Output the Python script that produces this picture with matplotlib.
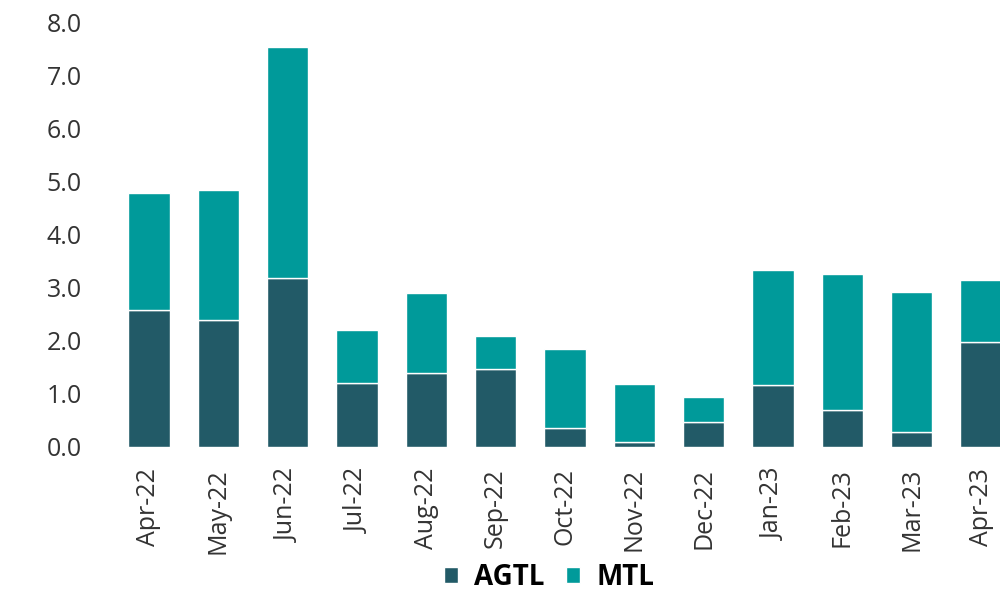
import matplotlib
matplotlib.use('Agg')
import matplotlib.pyplot as plt
import numpy as np

months = ['Apr-22', 'May-22', 'Jun-22', 'Jul-22', 'Aug-22', 'Sep-22', 'Oct-22',
          'Nov-22', 'Dec-22', 'Jan-23', 'Feb-23', 'Mar-23', 'Apr-23']
agtl = [2.58, 2.39, 3.18, 1.21, 1.39, 1.47, 0.36, 0.10, 0.47, 1.17, 0.70, 0.28, 1.98]
mtl = [2.20, 2.45, 4.35, 0.99, 1.51, 0.62, 1.49, 1.09, 0.47, 2.16, 2.56, 2.64, 1.17]

c_agtl = '#225A67'
c_mtl = '#009A9A'

plt.rcParams['font.family'] = ['Open Sans', 'DejaVu Sans']

fig = plt.figure(figsize=(10, 5.97), dpi=100)
ax = fig.add_axes([0.115, 0.2513, 0.885, 0.7117])

x = np.arange(len(months))
ax.bar(x, agtl, width=0.6, color=c_agtl, edgecolor='white', linewidth=1, label='AGTL')
ax.bar(x, mtl, width=0.6, bottom=agtl, color=c_mtl, edgecolor='white', linewidth=1, label='MTL')

ax.set_xlim(-0.49, 12.274)
ax.set_ylim(0, 8)
yt = np.arange(0, 8.1, 1)
ax.set_yticks(yt)
ax.set_yticklabels([f'{v:.1f}' for v in yt], fontsize=18, color='#333333')
ax.set_xticks(x)
ax.set_xticklabels(months, rotation=90, fontsize=18, color='#333333')
ax.tick_params(length=0)
ax.tick_params(axis='x', pad=15)
ax.tick_params(axis='y', pad=24)
for s in ax.spines.values():
    s.set_visible(False)

fig.legend(loc='center', bbox_to_anchor=(0.549, 0.033), ncol=2, frameon=False,
           prop={'weight': 'bold', 'size': 20}, handlelength=0.5, handleheight=0.5,
           handletextpad=0.58, columnspacing=0.8)

fig.savefig('out.png', dpi=100)
